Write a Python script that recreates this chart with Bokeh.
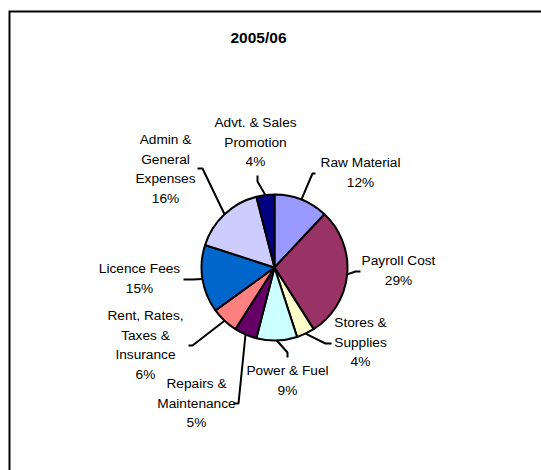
import numpy as np
from bokeh.plotting import figure
from bokeh.models import Range1d, ColumnDataSource
from bokeh.embed import file_html
from bokeh.resources import INLINE
from bokeh.core.properties import value

# ---------------- data ----------------
title = "2005/06"
categories = ["Raw Material", "Payroll Cost", "Stores &\nSupplies", "Power & Fuel",
              "Repairs &\nMaintenance", "Rent, Rates,\nTaxes &\nInsurance",
              "Licence Fees", "Admin &\nGeneral\nExpenses", "Advt. & Sales\nPromotion"]
shares = [12, 29, 4, 9, 5, 6, 15, 16, 4]
colors = ["#9999FF", "#993366", "#FFFFCC", "#CCFFFF", "#660066",
          "#FF8080", "#0066CC", "#CCCCFF", "#000080"]

# ---------------- layout (page pixel coords) ----------------
W, H = 541, 470
PIE_C = (274, 267)
PIE_R = 73
LINE_GAP = 19.7
FONT = "Liberation Sans"
BORDER_CORNER = (9, 11)
# label block: (center x, first-line y), leader: elbow point, anchor point
label_pos = [(360, 162), (398, 260), (360, 322), (287, 370), (196, 383),
             (145, 315), (139, 268), (165, 139), (255, 122)]
leader_elbow = [(312, 173), (355, 271), (325, 343), (287, 352), (238, 403),
                (192, 345), (192, 279), (202, 168), (257, 181)]
leader_end = [(315, 173), (360, 271), (331, 343), (287, 357), (233, 403),
              (188, 345), (183, 279), (197, 168), (257, 175)]


def X(xi):
    return xi


def Y(yi):
    return H - yi


p = figure(width=W, height=H, output_backend="svg", toolbar_location=None,
           x_range=Range1d(0, W), y_range=Range1d(0, H), min_border=0,
           match_aspect=False)
p.axis.visible = False
p.grid.visible = False
p.outline_line_color = None
p.background_fill_color = "white"
p.border_fill_color = "white"

# chart area border (top & left visible)
bx, by = BORDER_CORNER
p.line(x=[X(bx), X(bx), X(W + 5)], y=[Y(H + 5), Y(by), Y(by)],
       line_color="black", line_width=2, line_join="miter")

# pie
vals = np.array(shares, dtype=float)
frac = vals / vals.sum()
cum = np.concatenate([[0], np.cumsum(frac)])
start = np.pi / 2 - cum[1:] * 2 * np.pi
end = np.pi / 2 - cum[:-1] * 2 * np.pi
mid = (start + end) / 2
src = ColumnDataSource(dict(x=[X(PIE_C[0])] * len(vals), y=[Y(PIE_C[1])] * len(vals),
                            start=start, end=end, color=colors))
p.wedge(x="x", y="y", radius=PIE_R, radius_units="screen", start_angle="start",
        end_angle="end", direction="anticlock", fill_color="color",
        line_color="black", line_width=2, source=src)

# leader lines
cx, cy = X(PIE_C[0]), Y(PIE_C[1])
xs, ys = [], []
for i in range(len(vals)):
    ex = cx + PIE_R * np.cos(mid[i])
    ey = cy + PIE_R * np.sin(mid[i])
    xs.append([ex, X(leader_elbow[i][0]), X(leader_end[i][0])])
    ys.append([ey, Y(leader_elbow[i][1]), Y(leader_end[i][1])])
p.multi_line(xs=xs, ys=ys, line_color="black", line_width=2)

# labels
tx, ty, tt = [], [], []
for i, cat in enumerate(categories):
    lines = cat.split("\n") + [f"{shares[i]}%"]
    for j, ln in enumerate(lines):
        tx.append(X(label_pos[i][0]))
        ty.append(Y(label_pos[i][1] + j * LINE_GAP))
        tt.append(ln)
p.text(x=tx, y=ty, text=tt, text_align="center", text_baseline="middle",
       text_font=value(FONT), text_font_size="13.7px", text_color="black")

# title
p.text(x=[X(258)], y=[Y(37)], text=[title], text_align="center", text_baseline="middle",
       text_font=value(FONT), text_font_size="15.5px", text_font_style="bold",
       text_color="black")

open("out.html", "w").write(file_html(p, INLINE))
